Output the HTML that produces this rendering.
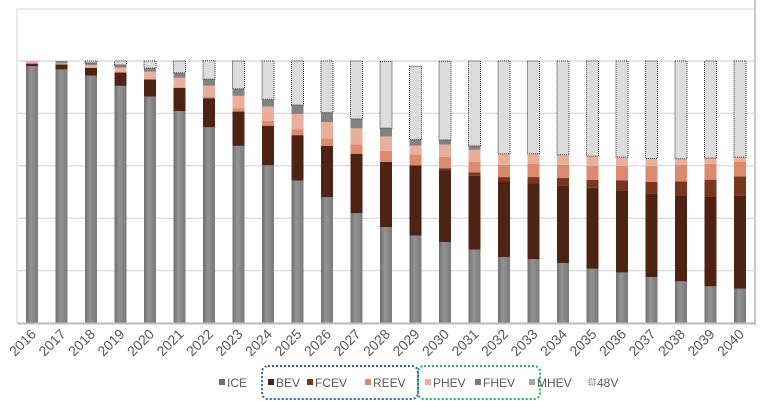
<!DOCTYPE html>
<html><head><meta charset="utf-8"><style>
html,body{margin:0;padding:0;background:#fff;}
svg{display:block;font-family:"Liberation Sans",sans-serif;}
</style></head><body>
<svg id="chart" width="763" height="401" viewBox="0 0 763 401">
<defs>
<linearGradient id="g-ice" x1="0" x2="1"><stop offset="0" stop-color="#6e6e6e"/><stop offset="0.4" stop-color="#939393"/><stop offset="1" stop-color="#7a7a7a"/></linearGradient>
</defs>
<rect x="17" y="9" width="738" height="314" fill="#fff" stroke="#e4e4e4" stroke-width="1.5"/>
<line x1="755" y1="0" x2="755" y2="325" stroke="#c8c8c8" stroke-width="2"/>
<g id="grid"></g>
<g id="bars"></g>
<line x1="17" y1="323.5" x2="755" y2="323.5" stroke="#bdbdbd" stroke-width="2"/>
<g id="xlabels" font-size="14" fill="#595959"></g>
<g id="legend" font-size="12" fill="#595959"></g>
<rect x="262" y="366" width="156" height="33" rx="6" fill="none" stroke="#2e62b0" stroke-width="2" stroke-dasharray="2,2"/>
<rect x="418" y="366" width="122" height="33" rx="6" fill="none" stroke="#1db954" stroke-width="2" stroke-dasharray="2,2"/>
</svg>
<script>
const years=[2016,2017,2018,2019,2020,2021,2022,2023,2024,2025,2026,2027,2028,2029,2030,2031,2032,2033,2034,2035,2036,2037,2038,2039,2040];
const ice =[98.0,96.8,94.4,90.5,86.4,80.9,74.7,67.6,60.2,54.4,48.0,41.9,36.6,33.4,30.9,28.0,25.2,24.4,22.9,20.7,19.3,17.5,15.9,14.0,13.1];
const bev =[1.0,1.9,3.0,5.1,6.6,8.9,11.1,13.1,15.1,17.3,19.6,22.7,24.9,26.8,27.3,28.2,28.8,29.0,29.7,30.9,31.3,32.0,32.8,34.1,35.4];
const fcev=[0,0,0,0,0,0,0,0,0,0,0,0,0,0,0.9,1.3,1.7,2.3,2.8,3.0,3.8,4.4,5.3,6.6,7.4];
const reev=[0,0,0,0,0,0,0.6,1.3,1.8,2.3,2.9,3.6,4.2,4.2,4.4,4.2,4.7,5.1,5.0,5.3,5.6,6.0,6.4,6.1,5.7];
const phev=[1.0,0.4,1.1,1.9,2.9,3.8,4.2,4.7,5.5,5.8,6.2,6.1,5.5,3.3,4.6,4.4,4.2,3.8,3.8,3.8,3.3,2.9,2.3,2.2,1.7];
const fhev=[0,0.9,0.8,1.0,1.4,1.9,2.5,2.7,2.8,3.4,3.6,3.6,3.2,2.3,1.8,1.5,0,0,0,0,0,0,0,0,0];
const mhev=[0,0,0,0,0,0,0,0,0,0,0,0,0,0,0,0,0,0,0,0,0,0,0,0,0];
const v48 =[0,0,0.7,1.5,2.7,4.5,7.0,10.6,14.6,16.8,19.7,22.1,25.4,28.0,30.0,32.4,35.4,35.4,35.8,36.3,36.7,37.2,37.3,37.0,36.7];
const gridTicks=[20,40,60,80,100];

const NS="http://www.w3.org/2000/svg";
const y0=323,y100=61;
const yS=v=>y0-(v/100)*(y0-y100);
const xS=i=>32+i*29.5;
const barW=12;
function mk(tag,attrs,parent){const e=document.createElementNS(NS,tag);for(const k in attrs)e.setAttribute(k,attrs[k]);parent.appendChild(e);return e;}
const grid=document.getElementById('grid');
gridTicks.forEach(t=>{
  const l=mk('line',{x1:17,x2:755,y1:yS(t),y2:yS(t),stroke:'#dedede','stroke-width':1.5},grid);
  
  
});
const series=[
 {name:'ICE',data:ice,fill:'url(#g-ice)',leg:'#6f6f6f'},
 {name:'BEV',data:bev,fill:'#4e2314',leg:'#4e2314'},
 {name:'FCEV',data:fcev,fill:'#7a3520',leg:'#7a3520'},
 {name:'REEV',data:reev,fill:'#dc8a6e',leg:'#dc8a6e'},
 {name:'PHEV',data:phev,fill:'#e8b09c',leg:'#e8b09c'},
 {name:'FHEV',data:fhev,fill:'#828282',leg:'#7a7a7a'},
 {name:'MHEV',data:mhev,fill:'#a8a8a8',leg:'#a8a8a8'},
 {name:'48V',data:v48,fill:'#dcdcdc',leg:'#dcdcdc',dotted:true}
];
const bars=document.getElementById('bars');
years.forEach((yr,i)=>{
  let cum=0;
  series.forEach(s=>{
    const v=s.data[i];
    if(v<=0)return;
    const top=yS(cum+v),bot=yS(cum);
    const a={x:xS(i)-barW/2,y:top,width:barW,height:bot-top,fill:s.fill};
    if(s.dotted){a.stroke='#333';a['stroke-width']=1;a['stroke-dasharray']='1,1';}
    const r=mk('rect',a,bars);
    
    
    cum+=v;
  });
});
const xl=document.getElementById('xlabels');
years.forEach((yr,i)=>{
  const x=xS(i)+5,y=335;
  const t=mk('text',{x:x,y:y,'text-anchor':'end',transform:`rotate(-45 ${x} ${y})`},xl);
  t.textContent=yr;
  
  
});
const lg=document.getElementById('legend');
const legX=[219,268,307,365,425,475,529,589];
series.forEach((s,i)=>{
  const g=mk('g',{},lg);
  
  
  const r={x:legX[i],y:379,width:6,height:6,fill:s.leg};
  if(s.dotted){r.stroke='#666';r['stroke-dasharray']='1,1';}
  mk('rect',r,g);
  const t=mk('text',{x:legX[i]+8,y:387},g);
  t.textContent=s.name;
});
</script>
</body></html>
